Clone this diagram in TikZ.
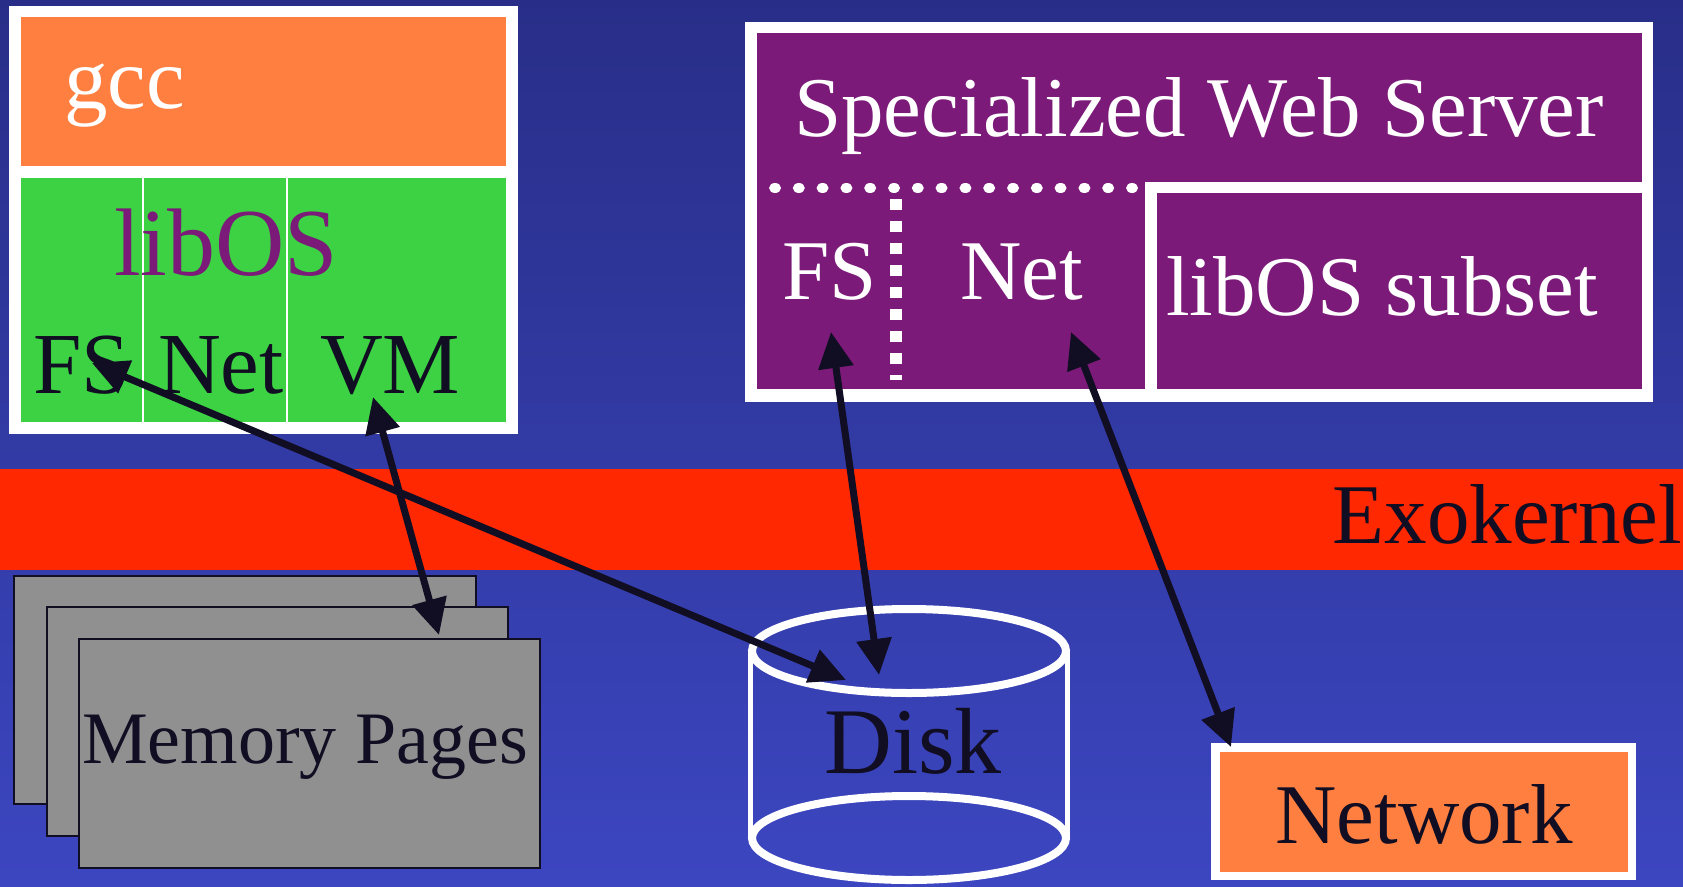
\documentclass[tikz,border=0pt]{standalone}
\usepackage{fontspec}
\setmainfont{Liberation Serif}
\usetikzlibrary{arrows.meta}
\definecolor{bgtop}{RGB}{40,46,136}
\definecolor{bgbot}{RGB}{60,70,192}
\definecolor{exored}{RGB}{255,40,0}
\definecolor{orng}{RGB}{255,127,64}
\definecolor{grn}{RGB}{60,210,68}
\definecolor{purp}{RGB}{123,26,120}
\definecolor{inkc}{RGB}{17,13,34}
\definecolor{pagegray}{RGB}{144,144,144}
\begin{document}
\begin{tikzpicture}[x=1pt,y=-1pt,
  lbl/.style={inner sep=0pt, outer sep=0pt},
  fA/.style={font=\fontsize{85}{90}\selectfont},
  fB/.style={font=\fontsize{87}{92}\selectfont},
  fC/.style={font=\fontsize{96}{100}\selectfont},
  fD/.style={font=\fontsize{74}{80}\selectfont},
  fE/.style={font=\fontsize{94}{100}\selectfont},
  conn/.style={inkc, line width=7pt, {Triangle[length=36pt,width=34pt]}-{Triangle[length=36pt,width=34pt]}},
  pagebox/.style={fill=pagegray, draw=inkc, line width=2.5pt}
]
\useasboundingbox (0,0) rectangle (1683,886);
% background
\shade[top color=bgtop, bottom color=bgbot] (0,0) rectangle (1683,886);
% exokernel band
\fill[exored] (0,469) rectangle (1683,570);
\node[lbl, fA, text=inkc, anchor=base east] (exo) at (1682,543) {Exokernel};

% left application box
\fill[white] (9,6) rectangle (518,434);
\fill[orng] (21,17) rectangle (506,166);
\fill[grn] (21,178) rectangle (506,422);
\draw[white, line width=2.5pt] (143,178) -- (143,422);
\draw[white, line width=2.5pt] (287,178) -- (287,422);
\node[lbl, fB, text=white, anchor=base west] (gcc) at (64,108) {gcc};
\node[lbl, fC, text=purp, anchor=base west] (libL) at (114,275) {libOS};
\node[lbl, fB, text=inkc, anchor=base west] (fsL) at (33,393) {FS};
\node[lbl, fB, text=inkc, anchor=base west] (netL) at (158,393) {Net};
\node[lbl, fB, text=inkc, anchor=base west] (vmL) at (320,393) {VM};

% web server box
\fill[white] (745,22) rectangle (1653,402);
\fill[purp] (757,33) rectangle (1642,389);
\fill[white] (1145,182) rectangle (1642,389);
\fill[purp] (1157,193) rectangle (1642,389);
\foreach \i in {0,...,15} {\fill[white] (775+\i*23.8,188) ellipse [x radius=6, y radius=5];}
\draw[white, line width=12pt, dash pattern=on 11pt off 11pt] (896,199) -- (896,380);
\node[lbl, fA, text=white, anchor=base] (sws) at (1199,136) {Specialized Web Server};
\node[lbl, fA, text=white, anchor=base west] (fsR) at (782,299) {FS};
\node[lbl, fA, text=white, anchor=base west] (netR) at (960,299) {Net};
\node[lbl, fA, text=white, anchor=base west] (libR) at (1166,315) {libOS subset};

% memory pages
\draw[pagebox] (14,576) rectangle (476,804);
\draw[pagebox] (47,607) rectangle (508,836);
\draw[pagebox] (79,639) rectangle (540,868);
\node[lbl, fD, text=inkc, anchor=base west] (mem) at (82,763) {Memory Pages};

% disk
\draw[white, line width=5pt] (750.5,651) -- (750.5,838);
\draw[white, line width=5pt] (1067.5,651) -- (1067.5,838);
\draw[white, line width=8pt] (909,651) ellipse [x radius=157, y radius=42];
\draw[white, line width=8pt] (909,838) ellipse [x radius=157, y radius=42];
\node[lbl, fE, text=inkc, anchor=base] (disk) at (913,773) {Disk};

% network
\fill[white] (1211,743) rectangle (1636,880);
\fill[orng] (1220,752) rectangle (1628,872);
\node[lbl, fA, text=inkc, anchor=base] (net) at (1424,843) {Network};

% connector end points
\coordinate (fsLtip) at (92,363);
\coordinate (vmLtip) at (373,397);
\coordinate (memtip) at (439,635);
\coordinate (diskA) at (846,680);
\coordinate (diskB) at (879,675);
\coordinate (fsRtip) at (831,332);
\coordinate (netRtip) at (1071,332);
\coordinate (nettip) at (1231,747);

\draw[conn] (fsLtip) -- (diskA);
\draw[conn] (vmLtip) -- (memtip);
\draw[conn] (fsRtip) -- (diskB);
\draw[conn] (netRtip) -- (nettip);
\end{tikzpicture}
\end{document}
